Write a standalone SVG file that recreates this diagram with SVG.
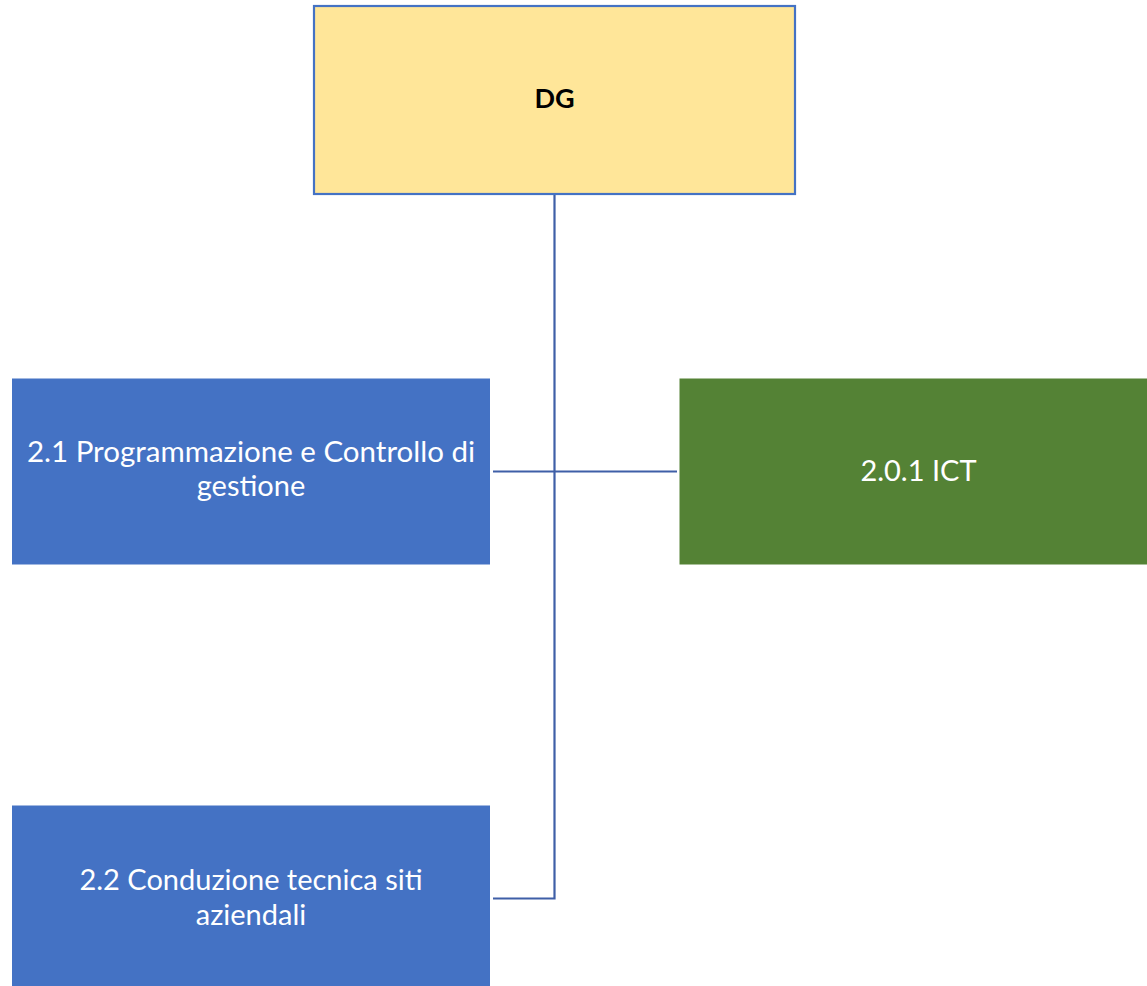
<svg xmlns="http://www.w3.org/2000/svg" width="1147" height="986" viewBox="0 0 1147 986">
<style>
.t{font-family:Lato,"Open Sans","Liberation Sans",sans-serif;font-size:29px;fill:#FFFFFF;text-anchor:middle}
.b{fill:#4472C4}
.c{stroke:#3F5FA7;stroke-width:2.2;fill:none}
</style>
<rect width="1147" height="986" fill="#FFFFFF"/>
<g id="connectors">
<path class="c" d="M554.5 194 V898.5 H493"/>
<path class="c" d="M493 471.5 H677"/>
</g>
<g id="node-dg">
<rect x="314" y="6" width="481" height="188" fill="#FFE699" stroke="#4472C4" stroke-width="2.2"/>
<text x="554.5" y="108" style="font-family:Lato,'Open Sans',sans-serif;font-size:27px;font-weight:bold;fill:#000000;text-anchor:middle">DG</text>
</g>
<g id="node-21">
<rect class="b" x="12" y="378.5" width="478" height="186"/>
<text class="t" x="251" y="462" style="font-size:29.5px">2.1 Programmazione e Controllo di</text>
<text class="t" x="251" y="496">gestione</text>
</g>
<g id="node-201">
<rect x="679.5" y="378.5" width="470" height="186" fill="#548235"/>
<text class="t" x="918.5" y="481">2.0.1 ICT</text>
</g>
<g id="node-22">
<rect class="b" x="12" y="805.5" width="478" height="182"/>
<text class="t" x="251" y="890">2.2 Conduzione tecnica siti</text>
<text class="t" x="251" y="925">aziendali</text>
</g>
</svg>
